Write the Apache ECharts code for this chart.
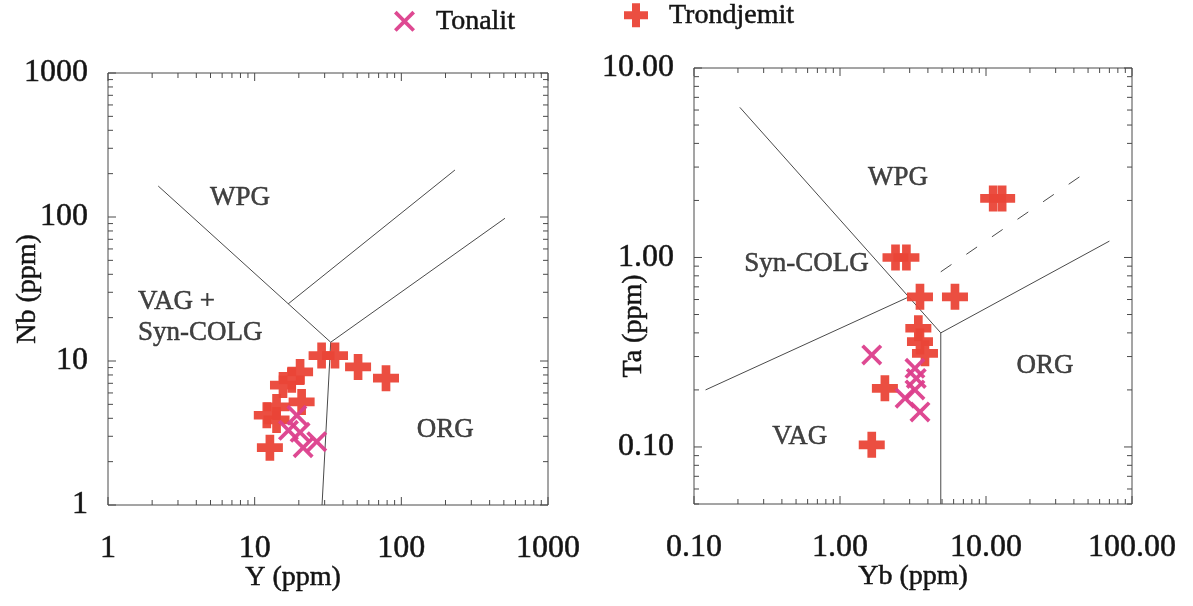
<!DOCTYPE html>
<html>
<head>
<meta charset="utf-8">
<script src="https://cdn.jsdelivr.net/npm/echarts@6/dist/echarts.min.js"></script>
<style>
  html, body { margin: 0; padding: 0; background: #ffffff; }
  #chart { width: 1193px; height: 606px; }
</style>
</head>
<body>
<div id="chart"></div>
<script>
// ---- Nb vs Y (left diagram) ----
const nbY_tonalit_Y  = [19.4, 17.0, 21.4, 26.5, 20.4];
const nbY_tonalit_Nb = [4.2, 3.3, 2.5, 2.75, 3.2];
const nbY_trond_Y  = [28.6, 35.3, 50.7, 78.6, 20.4, 17.9, 15.6, 20.9, 14.1, 12.1, 14.1, 12.7];
const nbY_trond_Nb = [10.9, 10.9, 9.1, 7.6, 8.4, 7.4, 6.8, 5.2, 4.8, 4.2, 3.9, 2.5];

// ---- Ta vs Yb (right diagram) ----
const taYb_tonalit_Yb = [1.65, 3.26, 3.33, 2.79, 3.26, 3.53];
const taYb_tonalit_Ta = [0.306, 0.26, 0.23, 0.181, 0.2, 0.153];
const taYb_trond_Yb = [11.2, 12.9, 2.4, 2.85, 3.53, 6.13, 3.44, 3.53, 3.82, 2.03, 1.65];
const taYb_trond_Ta = [2.05, 2.05, 1.0, 1.0, 0.62, 0.62, 0.423, 0.36, 0.312, 0.204, 0.1026];

// discrimination boundaries (Y, Nb) and (Yb, Ta)
const nbY_boundaries = [
  [[2.2, 164], [33, 13.5]],
  [[16.9, 24.9], [232, 212]],
  [[33, 13.5], [509, 98]],
  [[33, 13.5], [28.8, 1]]
];
const taYb_boundaries = [
  [[0.206, 6.2], [4.9, 0.4]],
  [[4.9, 0.4], [4.9, 0.05]],
  [[4.9, 0.4], [70, 1.22]],
  [[0.12, 0.2], [2.97, 0.62]]
];
const taYb_dashed = [[4.9, 0.84], [49, 2.83]];

// field names
const nbY_fields = [
  { name: 'WPG', at: [7.94, 135] },
  { name: 'VAG +\nSyn-COLG', at: [1.6, 20], left: true },
  { name: 'ORG', at: [199, 3.3] }
];
const taYb_fields = [
  { name: 'WPG', at: [2.5, 2.63] },
  { name: 'Syn-COLG', at: [0.59, 0.925] },
  { name: 'ORG', at: [25.4, 0.267] },
  { name: 'VAG', at: [0.53, 0.113] }
];

// axes
const nbY_xRange = [1, 1000];
const nbY_yRange = [1, 1000];
const taYb_xRange = [0.1, 100];
const taYb_yRange = [0.05, 10];
const nbY_xTicks = [1, 10, 100, 1000];
const nbY_xLabels = ['1', '10', '100', '1000'];
const nbY_yTicks = [1, 10, 100, 1000];
const nbY_yLabels = ['1', '10', '100', '1000'];
const taYb_xTicks = [0.1, 1, 10, 100];
const taYb_xLabels = ['0.10', '1.00', '10.00', '100.00'];
const taYb_yTicks = [0.1, 1, 10];
const taYb_yLabels = ['0.10', '1.00', '10.00'];

const FONT = '"Liberation Serif", "DejaVu Serif", serif';
const TEXT = '#141414';
const LINE = '#4a4a4a';
const C_TON = '#dc3f8c';
const C_TRO = '#ea4437';
const HEAVY = { textBorderColor: TEXT, textBorderWidth: 0.5 };

const PLUS = 'path://M-1,-3H1V-1H3V1H1V3H-1V1H-3V-1H-1Z';
const CROSS = 'path://M-4,-3L-3,-4L0,-1L3,-4L4,-3L1,0L4,3L3,4L0,1L-3,4L-4,3L-1,0Z';

function zip(a, b) { return a.map((v, i) => [v, b[i]]); }

function labelFor(ticks, labels) {
  return function (v) {
    for (let i = 0; i < ticks.length; i++) {
      if (Math.abs(Math.log10(v) - Math.log10(ticks[i])) < 1e-6) return labels[i];
    }
    return '';
  };
}

// log ticks: decades are major, 2..9 multiples are minor
function logTicks(range) {
  const out = [];
  const k0 = Math.floor(Math.log10(range[0]) + 1e-9);
  const k1 = Math.ceil(Math.log10(range[1]) - 1e-9);
  for (let k = k0; k <= k1; k++) {
    for (let m = 1; m <= 9; m++) {
      const v = m * Math.pow(10, k);
      if (v >= range[0] * (1 - 1e-9) && v <= range[1] * (1 + 1e-9)) out.push([v, m === 1 ? 1 : 0]);
    }
  }
  return out;
}

// inward tick marks on all four sides of a frame
function tickSeries(idx, xr, yr) {
  const data = [];
  logTicks(xr).forEach(t => data.push([t[0], yr[0], t[1], 0]));
  logTicks(yr).forEach(t => data.push([xr[0], t[0], t[1], 1]));
  return {
    type: 'custom', xAxisIndex: idx, yAxisIndex: idx, silent: true, clip: false, z: 3,
    data: data,
    encode: { x: 0, y: 1 },
    renderItem: function (params, api) {
      const major = api.value(2) === 1;
      const len = major ? 8 : 5;
      const style = { stroke: LINE, lineWidth: 1 };
      if (api.value(3) === 0) {
        const v = api.value(0);
        const a = api.coord([v, yr[0]]);
        const b = api.coord([v, yr[1]]);
        return { type: 'group', children: [
          { type: 'line', shape: { x1: a[0], y1: a[1], x2: a[0], y2: a[1] - len }, style: style },
          { type: 'line', shape: { x1: b[0], y1: b[1], x2: b[0], y2: b[1] + len }, style: style }
        ] };
      }
      const v = api.value(1);
      const a = api.coord([xr[0], v]);
      const b = api.coord([xr[1], v]);
      return { type: 'group', children: [
        { type: 'line', shape: { x1: a[0], y1: a[1], x2: a[0] + len, y2: a[1] }, style: style },
        { type: 'line', shape: { x1: b[0], y1: b[1], x2: b[0] - len, y2: b[1] }, style: style }
      ] };
    }
  };
}

function lineSeries(idx, pts, dashed) {
  return {
    type: 'line', xAxisIndex: idx, yAxisIndex: idx, data: pts, silent: true,
    showSymbol: false, symbol: 'none', z: 2, animation: false,
    lineStyle: { color: LINE, width: 1, type: dashed ? [13, 18] : 'solid' }
  };
}

function fieldSeries(idx, fields) {
  return {
    type: 'scatter', xAxisIndex: idx, yAxisIndex: idx, silent: true, symbolSize: 0, z: 4,
    data: fields.map(f => ({
      name: f.name, value: f.at,
      label: f.left ? { align: 'left' } : {}
    })),
    label: Object.assign({
      show: true, position: 'inside', formatter: '{b}', fontFamily: FONT, fontSize: 27,
      color: TEXT, lineHeight: 31
    }, HEAVY)
  };
}

function pointSeries(idx, name, pts, sym, size, color) {
  return {
    name: name, type: 'scatter', xAxisIndex: idx, yAxisIndex: idx, data: pts,
    symbol: sym, symbolSize: size, z: 5, itemStyle: { color: color, opacity: 0.95 }
  };
}

function xAxis(idx, range, ticks, labels, name, namePad) {
  return {
    type: 'log', logBase: 10, gridIndex: idx, min: range[0], max: range[1],
    name: name, nameLocation: 'middle', nameGap: 59, nameMoveOverlap: false,
    nameTextStyle: Object.assign({ fontFamily: FONT, fontSize: 28, color: TEXT, padding: namePad }, HEAVY),
    axisLine: { show: false }, axisTick: { show: false }, splitLine: { show: false },
    axisLabel: Object.assign({ formatter: labelFor(ticks, labels), fontFamily: FONT, fontSize: 32, color: TEXT, margin: 28,
      showMinLabel: true, showMaxLabel: true }, HEAVY)
  };
}
function yAxis(idx, range, ticks, labels, name, gap, namePad) {
  return {
    type: 'log', logBase: 10, gridIndex: idx, min: range[0], max: range[1],
    name: name, nameLocation: 'middle', nameGap: gap, nameRotate: 90, nameMoveOverlap: false,
    nameTextStyle: Object.assign({ fontFamily: FONT, fontSize: 28, color: TEXT, padding: namePad }, HEAVY),
    axisLine: { show: false }, axisTick: { show: false }, splitLine: { show: false },
    axisLabel: Object.assign({ formatter: labelFor(ticks, labels), fontFamily: FONT, fontSize: 32, color: TEXT, margin: 20,
      showMinLabel: true, showMaxLabel: true }, HEAVY)
  };
}

const series = [
  tickSeries(0, nbY_xRange, nbY_yRange),
  tickSeries(1, taYb_xRange, taYb_yRange)
];
nbY_boundaries.forEach(p => series.push(lineSeries(0, p, false)));
taYb_boundaries.forEach(p => series.push(lineSeries(1, p, false)));
series.push(lineSeries(1, taYb_dashed, true));
series.push(fieldSeries(0, nbY_fields));
series.push(fieldSeries(1, taYb_fields));
series.push(pointSeries(0, 'Trondjemit', zip(nbY_trond_Y, nbY_trond_Nb), PLUS, 26, C_TRO));
series.push(pointSeries(0, 'Tonalit', zip(nbY_tonalit_Y, nbY_tonalit_Nb), CROSS, 21, C_TON));
series.push(pointSeries(1, 'Trondjemit', zip(taYb_trond_Yb, taYb_trond_Ta), PLUS, 26, C_TRO));
series.push(pointSeries(1, 'Tonalit', zip(taYb_tonalit_Yb, taYb_tonalit_Ta), CROSS, 21, C_TON));

const legendText = Object.assign({ fontFamily: FONT, fontSize: 28, color: TEXT, padding: [0, 0, 0, 16] }, HEAVY);

const option = {
  animation: false,
  backgroundColor: '#ffffff',
  legend: [
    { data: ['Tonalit'], left: 389, top: 2, itemWidth: 21, itemHeight: 21, textStyle: legendText },
    { data: ['Trondjemit'], left: 619, top: -4, itemWidth: 24, itemHeight: 24, textStyle: legendText }
  ],
  grid: [
    { left: 108, top: 73, width: 440, height: 432, show: true, borderColor: LINE, borderWidth: 1,
      backgroundColor: 'transparent', containLabel: false, outerBoundsMode: 'none' },
    { left: 694, top: 68, width: 438, height: 436, show: true, borderColor: LINE, borderWidth: 1,
      backgroundColor: 'transparent', containLabel: false, outerBoundsMode: 'none' }
  ],
  xAxis: [
    xAxis(0, nbY_xRange, nbY_xTicks, nbY_xLabels, 'Y (ppm)', [0, 70, 0, 0]),
    xAxis(1, taYb_xRange, taYb_xTicks, taYb_xLabels, 'Yb (ppm)', 0)
  ],
  yAxis: [
    yAxis(0, nbY_yRange, nbY_yTicks, nbY_yLabels, 'Nb (ppm)', 66, 0),
    yAxis(1, taYb_yRange, taYb_yTicks, taYb_yLabels, 'Ta (ppm)', 46, [0, 80, 0, 0])
  ],
  series: series
};

const chart = echarts.init(document.getElementById('chart'), null, { renderer: 'canvas' });
chart.setOption(option);
</script>
</body>
</html>
